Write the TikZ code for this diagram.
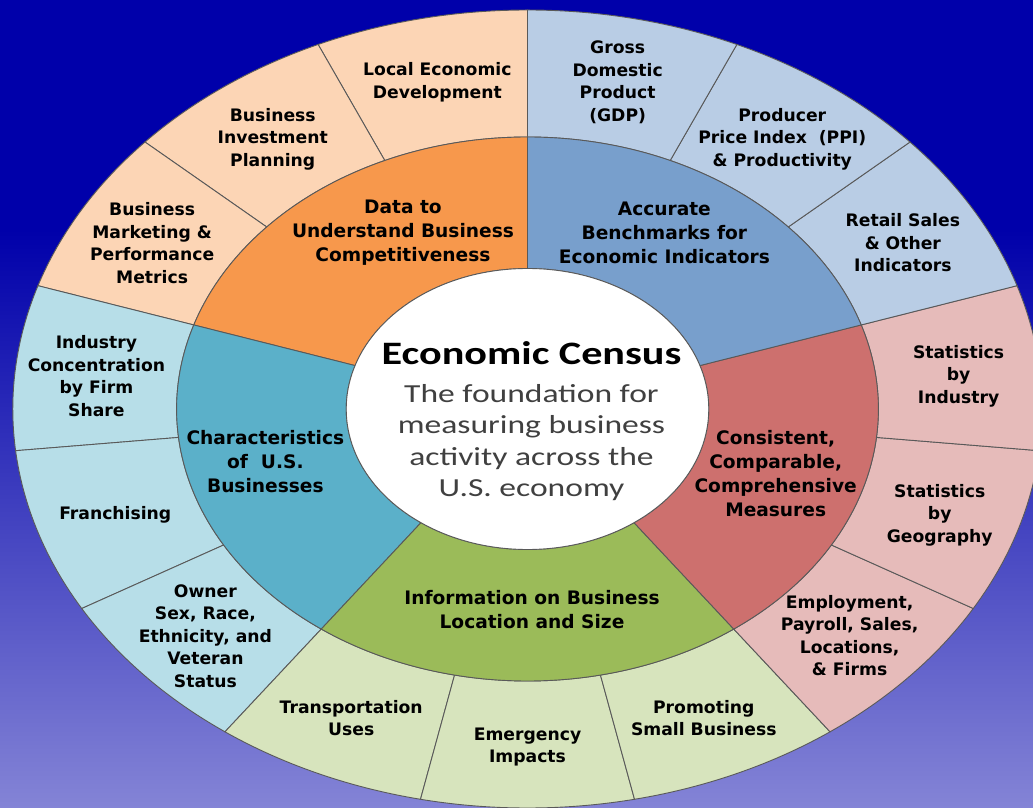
\documentclass[tikz,border=0pt]{standalone}
\usepackage{fontspec}
\setmainfont{Carlito}[FakeStretch=1.29]
\newfontfamily\labelfont{DejaVu Sans}
\usepackage{tikz}

\definecolor{bgtop}{RGB}{0,0,170}
\definecolor{bgbot}{RGB}{132,132,214}
\definecolor{peach}{RGB}{252,213,181}
\definecolor{orangemid}{RGB}{247,152,76}
\definecolor{skylight}{RGB}{185,205,229}
\definecolor{bluemid}{RGB}{120,159,204}
\definecolor{pinklight}{RGB}{230,187,186}
\definecolor{redmid}{RGB}{205,112,110}
\definecolor{greenlight}{RGB}{215,228,189}
\definecolor{greenmid}{RGB}{155,187,89}
\definecolor{teallight}{RGB}{183,222,232}
\definecolor{tealmid}{RGB}{91,176,201}
\definecolor{edge}{RGB}{89,89,89}
\definecolor{subgray}{RGB}{64,64,64}

\begin{document}
\begin{tikzpicture}[x=1pt,y=1pt]
\useasboundingbox (-527.5,-399) rectangle (505.5,409);

\tikzstyle{piece}=[draw=edge, line width=0.9pt]
\tikzstyle{ringlabel}=[align=center, inner sep=0pt, yshift=-2pt, font=\labelfont\bfseries\fontsize{17.2}{22.5}\selectfont]
\tikzstyle{hublabel}=[align=center, inner sep=0pt, font=\labelfont\bfseries\fontsize{18.6}{24}\selectfont]

% background
\fill[bgtop] (-527.5,-399) rectangle (505.5,409);
\shade[top color=bgtop, bottom color=bgbot] (-527.5,-399) rectangle (505.5,180);

\begin{scope}[xscale=1.29]
% outer ring, 15 pieces
\foreach \c [count=\k from 0] in {peach,peach,peach,teallight,teallight,teallight,
  greenlight,greenlight,greenlight,pinklight,pinklight,pinklight,skylight,skylight,skylight}{
  \pgfmathsetmacro\sa{90+24*\k}
  \pgfmathsetmacro\sb{114+24*\k}
  \filldraw[piece, fill=\c] (\sa:272) -- (\sa:399) arc[start angle=\sa, end angle=\sb, radius=399]
    -- (\sb:272) arc[start angle=\sb, end angle=\sa, radius=272] -- cycle;
}
% middle ring, 5 pieces
\foreach \c [count=\k from 0] in {orangemid,tealmid,greenmid,redmid,bluemid}{
  \pgfmathsetmacro\sa{90+72*\k}
  \pgfmathsetmacro\sb{162+72*\k}
  \filldraw[piece, fill=\c] (\sa:140.5) -- (\sa:272) arc[start angle=\sa, end angle=\sb, radius=272]
    -- (\sb:140.5) arc[start angle=\sb, end angle=\sa, radius=140.5] -- cycle;
}
\filldraw[piece, fill=white] (0,0) circle[radius=140.5];

% outer labels
\foreach \txt [count=\k from 0] in {
  {Local Economic\\Development},
  {Business\\Investment\\Planning},
  {Business\\Marketing \&\\Performance\\Metrics},
  {Industry\\Concentration\\by Firm\\Share},
  {Franchising},
  {Owner\\Sex, Race,\\Ethnicity, and\\Veteran\\Status},
  {Transportation\\Uses},
  {Emergency\\Impacts},
  {Promoting\\Small Business},
  {Employment,\\Payroll, Sales,\\Locations,\\\& Firms},
  {Statistics\\by\\Geography},
  {Statistics\\by\\Industry},
  {Retail Sales\\\& Other\\Indicators},
  {Producer\\Price Index\ \ (PPI)\\\& Productivity},
  {Gross\\Domestic\\Product\\(GDP)}}{
  \node[ringlabel] (out\k) at (102+24*\k:336) {\txt};
}

% middle labels
\node[hublabel] (compete) at (118.7:201) {Data to\\Understand Business\\Competitiveness};
\node[hublabel] (traits) at (194.6:210) {Characteristics\\of\ \ U.S.\\Businesses};
\node[hublabel] (location) at (-89:201) {Information on Business\\Location and Size};
\node[hublabel] (measures) at (-18.6:203) {Consistent,\\Comparable,\\Comprehensive\\Measures};
\node[hublabel] (benchmarks) at (59:206) {Accurate\\Benchmarks for\\Economic Indicators};
\end{scope}

% centre
\node[anchor=base, font=\bfseries\fontsize{32.7}{38}\selectfont] (title) at (4,44) {Economic Census};
\node[align=center, text=subgray, inner sep=0pt, font=\fontsize{26}{31.5}\selectfont] (subtitle) at (4,-33.5)
  {The foundation for\\measuring business\\activity across the\\U.S. economy};
\end{tikzpicture}
\end{document}
